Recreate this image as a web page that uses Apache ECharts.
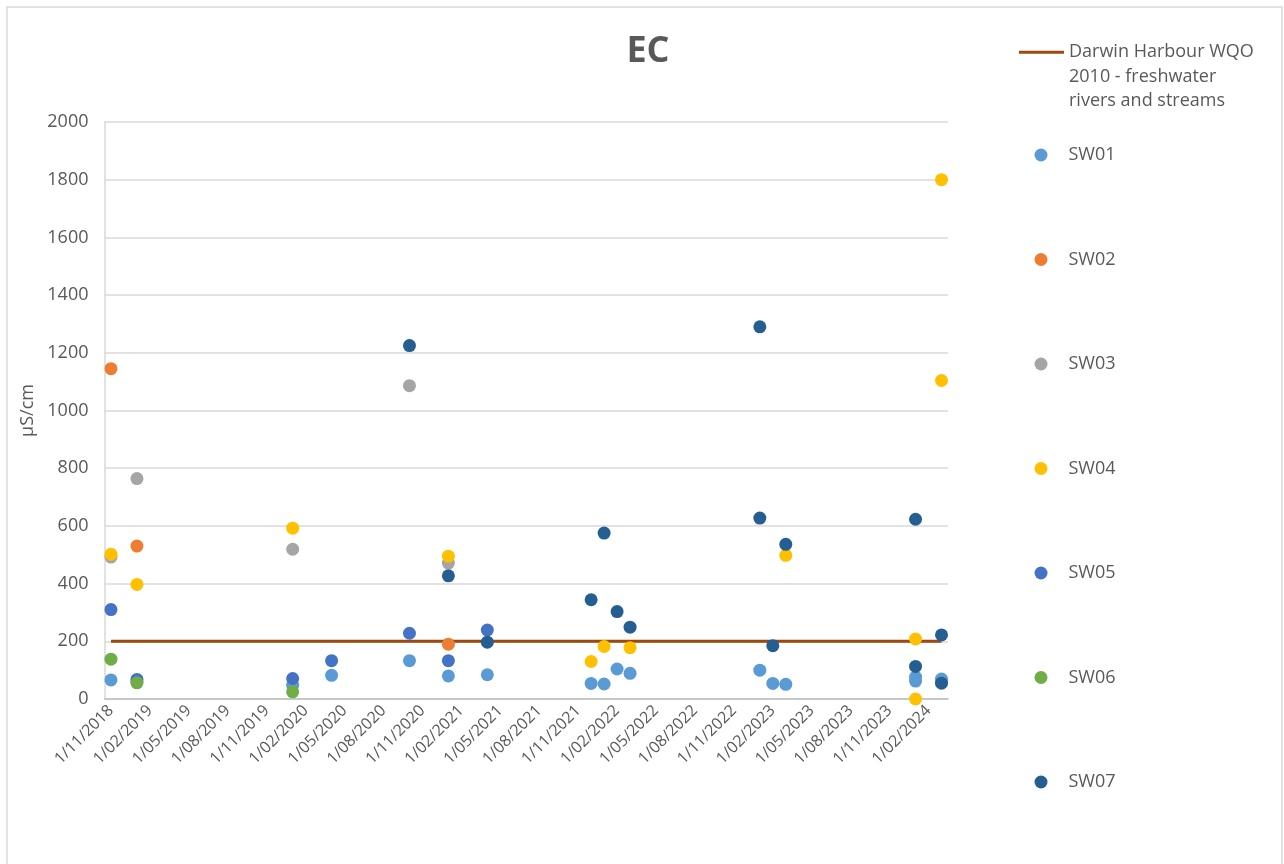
<!DOCTYPE html>
<html>
<head>
<meta charset="utf-8">
<script src="https://cdn.jsdelivr.net/npm/echarts@6/dist/echarts.min.js"></script>
<style>
  html, body { margin: 0; padding: 0; background: #fff; }
  #chart { width: 1284px; height: 864px; }
</style>
</head>
<body>
<div id="chart"></div>
<script>
// month slots on the date axis (base unit = months)
var startYear = 2018, startMonth = 11, monthCount = 65;

// WQO guideline value
var wqoName = 'Darwin Harbour WQO 2010 - freshwater rivers and streams';
var wqoValue = 200;

// sampling month + EC value (µS/cm) for each site
var sw01Months = ['2018-11','2019-01','2020-01','2020-04','2020-10','2021-01','2021-04','2021-12','2022-01','2022-02','2022-03','2023-01','2023-02','2023-03','2024-01','2024-01','2024-03'];
var sw01Values = [66, 60, 48, 82, 133, 80, 84, 54, 52, 104, 89, 100, 54, 51, 76, 62, 69];

var sw02Months = ['2018-11','2019-01','2021-01'];
var sw02Values = [1145, 530, 190];

var sw03Months = ['2018-11','2019-01','2020-01','2020-10','2021-01'];
var sw03Values = [492, 764, 519, 1086, 471];

var sw04Months = ['2018-11','2019-01','2020-01','2021-01','2021-12','2022-01','2022-03','2023-03','2024-01','2024-01','2024-03','2024-03'];
var sw04Values = [502, 397, 592, 495, 130, 182, 178, 498, 208, 0, 1800, 1104];

var sw05Months = ['2018-11','2019-01','2020-01','2020-04','2020-10','2021-01','2021-04'];
var sw05Values = [310, 68, 71, 133, 228, 133, 239];

var sw06Months = ['2018-11','2019-01','2020-01'];
var sw06Values = [138, 56, 25];

var sw07Months = ['2020-10','2021-01','2021-04','2021-12','2022-01','2022-02','2022-03','2023-01','2023-01','2023-02','2023-03','2024-01','2024-01','2024-03','2024-03'];
var sw07Values = [1225, 427, 197, 344, 575, 303, 249, 1290, 627, 185, 536, 623, 113, 222, 55];

var siteNames = ['SW01','SW02','SW03','SW04','SW05','SW06','SW07'];
var siteColors = ['#5B9BD5','#ED7D31','#A5A5A5','#FFC000','#4472C4','#70AD47','#255E91'];

function pad2(n){
  return n < 10 ? '0' + n : String(n);
}

// list of months like np.arange
function monthList(y, m, n){
  var out = [];
  for (var i = 0; i < n; i++) {
    out.push(y + '-' + pad2(m));
    m++;
    if (m > 12) { m = 1; y++; }
  }
  return out;
}

var months = monthList(startYear, startMonth, monthCount);

function pairs(ms, vs){
  var out = [];
  for (var i = 0; i < ms.length; i++) out.push([ms[i], vs[i]]);
  return out;
}

var siteData = [
  pairs(sw01Months, sw01Values),
  pairs(sw02Months, sw02Values),
  pairs(sw03Months, sw03Values),
  pairs(sw04Months, sw04Values),
  pairs(sw05Months, sw05Values),
  pairs(sw06Months, sw06Values),
  pairs(sw07Months, sw07Values)
];

// guideline spans first to last sampled month
var wqoData = [];
for (var i = 0; i < months.length; i++) {
  wqoData.push([months[i], wqoValue]);
}

var txt = '#595959';
var font = 'Open Sans';

var series = [{
  name: wqoName,
  type: 'line',
  data: wqoData,
  symbol: 'none',
  lineStyle: { color: '#9E480E', width: 3 },
  itemStyle: { color: '#9E480E' },
  z: 1
}];
siteNames.forEach(function(n, k){
  series.push({
    name: n,
    type: 'scatter',
    data: siteData[k],
    symbol: 'circle',
    symbolSize: 13,
    itemStyle: { color: siteColors[k], opacity: 1 },
    z: 2 + k
  });
});

var chart = echarts.init(document.getElementById('chart'), null, { renderer: 'canvas' });
chart.setOption({
  animation: false,
  textStyle: { fontFamily: font },
  title: {
    text: 'EC',
    left: 643,
    textAlign: 'center',
    top: 29,
    textStyle: { fontFamily: font, fontSize: 36, fontWeight: 'bold', color: txt }
  },
  graphic: [{
    type: 'rect',
    shape: { x: 7, y: 7, width: 1275, height: 880 },
    style: { fill: 'none', stroke: '#D9D9D9', lineWidth: 1.5 },
    silent: true
  }],
  legend: [{
    left: 1019,
    top: -9,
    padding: 0,
    orient: 'vertical',
    data: [{ name: wqoName, icon: 'rect' }],
    itemWidth: 45,
    itemHeight: 3,
    selectedMode: false,
    // blank lines up front so the first text line sits level with the line icon
    formatter: function(){ return '\n\nDarwin Harbour WQO\n2010 - freshwater\nrivers and streams'; },
    textStyle: { fontFamily: font, fontSize: 18, color: txt, lineHeight: 24.5 }
  }, {
    left: 1034.5,
    top: 143,
    padding: 0,
    orient: 'vertical',
    data: siteNames,
    itemWidth: 45,
    itemHeight: 13,
    itemGap: 80.5,
    selectedMode: false,
    textStyle: { fontFamily: font, fontSize: 18, color: txt, lineHeight: 24 }
  }],
  grid: { left: 104.5, right: 336, top: 122, bottom: 165, containLabel: false },
  xAxis: {
    type: 'category',
    data: months,
    boundaryGap: true,
    axisTick: { show: false },
    axisLine: { lineStyle: { color: '#BFBFBF', width: 1.5 } },
    splitLine: { show: false },
    axisLabel: {
      interval: 2,
      rotate: 45,
      margin: 9,
      fontFamily: font,
      fontSize: 16,
      color: txt,
      formatter: function(v){
        var p = v.split('-');
        return '1/' + p[1] + '/' + p[0];
      }
    }
  },
  yAxis: {
    type: 'value',
    min: 0,
    max: 2000,
    interval: 200,
    name: 'µS/cm',
    nameLocation: 'middle',
    nameGap: 63,
    nameTextStyle: { fontFamily: font, fontSize: 18, color: txt },
    axisLine: { show: true, lineStyle: { color: '#D9D9D9', width: 1.5 } },
    axisTick: { show: false },
    splitLine: { lineStyle: { color: '#D9D9D9', width: 1.5 } },
    axisLabel: {
      margin: 16,
      fontFamily: font,
      fontSize: 18,
      color: txt,
      formatter: function(v){ return String(v); }
    }
  },
  series: series
});
</script>
</body>
</html>
